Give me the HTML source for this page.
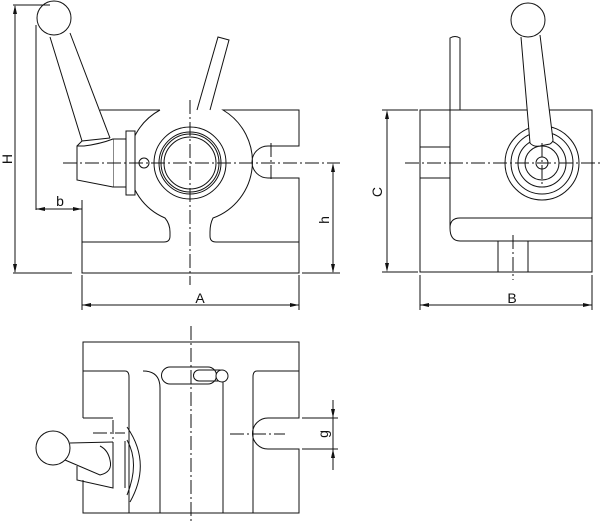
<!DOCTYPE html>
<html><head><style>html,body{margin:0;padding:0;background:#fff}svg{display:block}</style></head>
<body>
<svg width="600" height="521" viewBox="0 0 600 521" xmlns="http://www.w3.org/2000/svg" font-family="Liberation Sans, sans-serif">
<g fill="none" stroke="#111" stroke-width="1">
<!-- FRONT VIEW -->
<path d="M82,200 V273 H299 V178 H268 A16,16 0 0 1 268,146 H299 V110 H223 A60,60 0 0 1 213,218 Q210,224 210,232 V236 Q210,242 216,242 H299"/>
<path d="M82,242 H164 Q170,242 170,236 V232 Q170,224 165,218 A60,60 0 0 1 160,110"/>
<line x1="100" y1="110" x2="160" y2="110"/>
<circle cx="190" cy="163" r="36"/><circle cx="190" cy="163" r="31"/><circle cx="190" cy="163" r="29"/><circle cx="190" cy="163" r="26"/>
<circle cx="144" cy="163" r="5"/>
<path d="M82,141 L50,37 M110,138 L70,33"/>
<circle cx="54" cy="18" r="17" fill="#fff"/>
<rect x="126" y="131" width="9" height="64" fill="#fff"/>
<rect x="113" y="139" width="13" height="48" fill="#fff"/>
<path d="M113,139 Q100,144 84,146 H77 V180 L113,187" fill="#fff"/>
<path d="M77,146 L82,141 L110,138"/>
<path d="M197,110 L218,37 L229,40 L210,110"/>
<!-- dims front -->
<path d="M15,6 V272 M13,5 H50 M13,273 H72 M36,25 V210 M36,209 H82 M82,275 V310 M299,275 V310 M82,305 H299 M302,273 H340 M333,165 V272"/>
<path d="M63,163 H340 M190,100 V285 M271,143 V182" stroke-dasharray="14,3,2,3"/>
<!-- RIGHT VIEW -->
<rect x="420" y="110" width="172" height="162"/>
<path d="M450,110 V228 Q450,241 460,241 H592 M460,218 Q450,218 450,228 M460,218 H592"/>
<rect x="420" y="147" width="30" height="31"/>
<rect x="498" y="241" width="30" height="31"/>
<path d="M450,110 V38 Q455,35 460,38 V110"/>
<circle cx="542" cy="163" r="37"/><circle cx="542" cy="163" r="31"/><circle cx="542" cy="163" r="24"/><circle cx="542" cy="163" r="17"/><circle cx="542" cy="163" r="6"/>
<path d="M521,37 L530,143 Q533,147 540,146 L550,144 Q553,142 553,140 L540,35" fill="#fff"/>
<circle cx="528" cy="20" r="17" fill="#fff"/>
<path d="M387,112 V270 M382,110 H418 M382,272 H418 M420,275 V310 M592,275 V310 M420,305 H592"/>
<path d="M405,163 H600 M542,143 V185 M513,235 V280" stroke-dasharray="14,3,2,3"/>
<!-- BOTTOM VIEW -->
<path d="M83,418 V342 H299 V418 H268 A15,15 0 0 0 268,449 H299 V513 H83 V480"/>
<path d="M83,418 H113"/>
<path d="M83,371 H125 Q129,371 129,377 V513"/>
<path d="M143,371 Q160,371 160,388 V513"/>
<path d="M299,371 H257 Q253,371 253,377 V513"/>
<path d="M223,376 V513"/>
<path d="M170,367 H208 A8.5,8.5 0 0 1 208,384 H170 A8.5,8.5 0 0 1 170,367 Z"/>
<path d="M199,370 H220 V381 H199 A5.5,5.5 0 0 1 199,370 Z"/>
<circle cx="222" cy="376" r="6" fill="#fff"/>
<path d="M127,427 Q152,463 130,502 M127,440 Q140,463 127,495 M125,441 V488"/>
<path d="M113,442 V488 L77,480 V466"/>
<path d="M70,443 L113,442 M65,460 L100,475 Q113,472 110,460 Q108,450 100,446"/>
<circle cx="53" cy="448" r="17" fill="#fff"/>
<path d="M302,418 H338 M302,449 H338 M333,400 V470"/>
<path d="M191,326 V521 M230,434 H285 M253,420 V448 M93,433 H125 M113,420 V446" stroke-dasharray="14,3,2,3"/>
</g>
<g fill="#111">
<path d="M15,5 l-2,9 h4 z M15,273 l-2,-9 h4 z M36,209 l9,-2 v4 z M82,209 l-9,-2 v4 z M82,305 l9,-2 v4 z M299,305 l-9,-2 v4 z M333,163 l-2,9 h4 z M333,273 l-2,-9 h4 z M387,110 l-2,9 h4 z M387,272 l-2,-9 h4 z M420,305 l9,-2 v4 z M592,305 l-9,-2 v4 z M333,418 l-2,-9 h4 z M333,449 l-2,9 h4 z"/>
</g>
<g font-size="14" fill="#111" text-anchor="middle">
<text x="200" y="303">A</text>
<text x="512" y="303">B</text>
<text x="60" y="206">b</text>
<text transform="translate(12,159) rotate(-90)">H</text>
<text transform="translate(329,220) rotate(-90)">h</text>
<text transform="translate(382,192) rotate(-90)">C</text>
<text transform="translate(328,434) rotate(-90)">g</text>
</g>
</svg>
</body></html>
